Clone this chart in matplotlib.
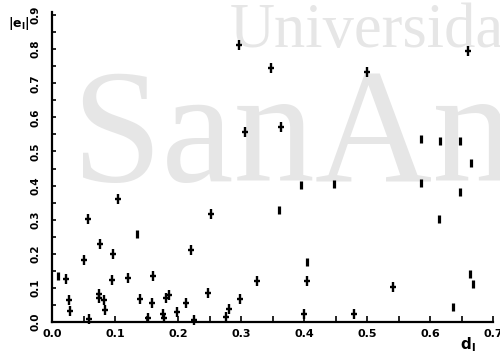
import matplotlib
matplotlib.use("Agg")
import matplotlib.pyplot as plt
from matplotlib.path import Path

# Points drawn as "+" crosses
plus_d = [0.297, 0.347, 0.4995, 0.660, 0.306, 0.363, 0.104, 0.253, 0.057, 0.076,
          0.221, 0.097, 0.050, 0.325, 0.404, 0.542, 0.400, 0.479,
          0.022, 0.027, 0.029, 0.074, 0.075, 0.083, 0.084, 0.095, 0.121, 0.160,
          0.140, 0.158, 0.181, 0.186, 0.213, 0.176, 0.177, 0.198, 0.153, 0.058,
          0.225, 0.247, 0.276, 0.281, 0.298]
plus_e = [0.812, 0.744, 0.734, 0.795, 0.558, 0.571, 0.361, 0.317, 0.302, 0.229,
          0.211, 0.200, 0.182, 0.120, 0.120, 0.102, 0.022, 0.023,
          0.125, 0.065, 0.032, 0.082, 0.069, 0.065, 0.035, 0.123, 0.130, 0.135,
          0.066, 0.057, 0.071, 0.079, 0.057, 0.023, 0.011, 0.030, 0.011, 0.009,
          0.006, 0.084, 0.015, 0.037, 0.067]

# Points drawn as short vertical bars
bar_d = [0.586, 0.616, 0.648, 0.665, 0.395, 0.447, 0.585, 0.648, 0.360, 0.614,
         0.135, 0.404, 0.663, 0.669, 0.636, 0.010]
bar_e = [0.536, 0.532, 0.532, 0.467, 0.402, 0.404, 0.407, 0.380, 0.328, 0.302,
         0.258, 0.176, 0.141, 0.111, 0.043, 0.136]

x_ticks = [0.0, 0.1, 0.2, 0.3, 0.4, 0.5, 0.6, 0.7]
x_tick_labels = ["0.0", "0.1", "0.2", "0.3", "0.4", "0.5", "0.6", "0.7"]
y_ticks = [0.0, 0.1, 0.2, 0.3, 0.4, 0.5, 0.6, 0.7, 0.8, 0.9]
y_tick_labels = ["0.0", "0.1", "0.2", "0.3", "0.4", "0.5", "0.6", "0.7", "0.8", "0.9"]

fig = plt.figure(figsize=(5.0, 3.54), dpi=100)
ax = fig.add_axes([0.104, 0.0904, 0.882, 0.8766])
ax.patch.set_visible(False)

# watermark
wm = "#e6e6e6"
fig.text(0.46, 0.867, "Universida", fontsize=45, family="Liberation Serif",
         color=wm, ha="left", va="baseline", zorder=-5)
fig.text(0.142, 0.489, "SanAn", fontsize=117, family="Liberation Serif",
         color=wm, ha="left", va="baseline", zorder=-5)

plus_marker = Path([(-0.55, 0), (0.55, 0), (0, -1), (0, 1)],
                   [Path.MOVETO, Path.LINETO, Path.MOVETO, Path.LINETO])
ax.plot(plus_d, plus_e, linestyle="none", marker=plus_marker, markersize=7,
        markeredgewidth=1.7, color="black", clip_on=False)
ax.plot(bar_d, bar_e, linestyle="none", marker="|", markersize=6,
        markeredgewidth=2.3, color="black", clip_on=False)

ax.set_xlim(0, 0.7)
ax.set_ylim(0, 0.91)
for s in ["top", "right"]:
    ax.spines[s].set_visible(False)
ax.spines["left"].set_linewidth(1.6)
ax.spines["bottom"].set_linewidth(1.6)

ax.set_xticks(x_ticks)
ax.set_xticklabels(x_tick_labels, fontsize=8, fontweight="bold")
ax.set_xticks([v + 0.05 for v in x_ticks[:-1]], minor=True)
ax.set_yticks(y_ticks)
ax.set_yticklabels(y_tick_labels, fontsize=7.5, fontweight="bold",
                   rotation=90, va="center")
ax.set_yticks([v + 0.05 for v in y_ticks[:-1]], minor=True)
ax.tick_params(axis="x", which="both", direction="in", length=4, width=1.2, pad=5)
ax.tick_params(axis="y", which="both", direction="in", length=3, width=1.2, pad=8)

fig.text(0.038, 0.935, r"$\mathbf{|e_l|}$", fontsize=9, ha="center", va="center")
fig.text(0.935, 0.025, r"$\mathbf{d_l}$", fontsize=11, ha="center", va="center")

fig.savefig("out.png", dpi=100)
